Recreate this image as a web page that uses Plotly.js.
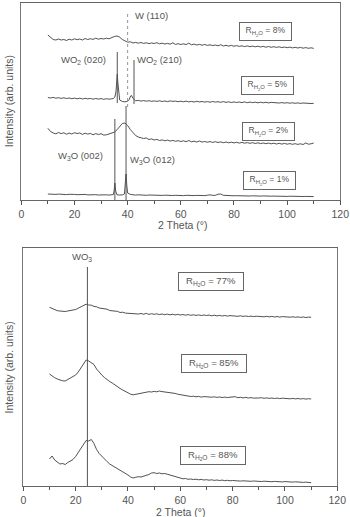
<!DOCTYPE html>
<html>
<head>
<meta charset="utf-8">
<script src="https://cdn.plot.ly/plotly-3.0.1.min.js"></script>
<style>
  html, body { margin: 0; padding: 0; background: #fff; }
  #chart { width: 350px; height: 517px; }
</style>
</head>
<body>
<div id="chart"></div>
<script>
// 2-theta grid shared by the smooth scans (degrees)
const theta = [10,11,12,13,14,15,16,17,18,19,20,21,22,23,24,25,26,27,28,29,30,31,32,33,34,35,36,37,38,39,40,41,42,43,44,45,46,47,48,49,50,51,52,53,54,55,56,57,58,59,60,61,62,63,64,65,66,67,68,69,70,71,72,73,74,75,76,77,78,79,80,81,82,83,84,85,86,87,88,89,90,91,92,93,94,95,96,97,98,99,100,101,102,103,104,105,106,107,108,109,110];

// Upper panel: low water ratio scans (offset intensities)
const int8 = [165,162.5,160.5,160,161,160,160.5,159.5,160.8,160,
  161.2,160.3,161,160,161.5,160.5,161.3,160.6,161.8,160.8,
  161.5,161,161.8,161.2,162.5,163.5,164,162.8,160.5,159,
  157.8,158.2,157,157.6,156.8,157.5,156.6,157.2,156.4,157,
  156.5,157.3,156.2,156.8,156,156.6,155.8,157.2,155.6,156.3,
  155.5,156.2,155.4,156.8,155.2,155.9,155,155.6,154.8,155.5,
  154.6,155.2,154.4,155,154.2,155.3,154,154.7,153.9,154.6,
  153.8,154.4,153.6,154.2,153.4,154.1,153.3,153.9,153.2,153.8,
  153,153.6,152.8,153.5,152.7,153.3,152.6,153.2,152.4,153,
  152.3,152.9,152.1,152.7,152,152.6,151.8,152.4,151.7,152.2,151.6];

const theta5 = [10,11,12,13,14,15,16,17,18,19,20,21,22,23,24,25,26,27,28,29,30,31,32,33,34,
  34.6,35.2,35.6,35.9,36.1,36.3,36.6,37,38,39,40,40.6,41.1,41.5,41.9,42.2,42.4,42.6,43,
  44,45,46,47,48,49,50,51,52,53,54,55,56,57,58,59,60,61,62,63,64,65,66,67,68,69,70,71,72,73,74,75,76,77,78,79,80,81,82,83,84,85,86,87,88,89,90,91,92,93,94,95,96,97,98,99,100,101,102,103,104,105,106,107,108,109,110];
const int5 = [102.5,102,102.6,101.8,102.3,101.6,102.2,101.5,102,101.3,
  101.9,101.2,101.8,101,101.7,101.1,101.6,100.8,101.5,100.9,
  101.4,100.7,101.3,100.8,101.2,
  101.5,103,108,118,126,118,106,100,98.5,98.2,98.8,100.5,104,104.5,102,101,100.5,99.5,99.2,
  99.6,98.9,99.4,98.8,99.3,98.7,
  99.1,98.6,99.2,98.5,99,98.4,99.1,98.6,98.9,98.3,
  98.8,98.2,98.9,98.1,98.6,98,98.7,98.1,98.5,97.9,
  98.4,97.8,98.5,97.9,98.3,97.7,98.4,97.6,98.2,97.5,
  98.1,97.5,98,97.4,98.1,97.3,97.9,97.4,97.8,97.2,
  97.8,97.2,97.7,97.1,97.6,97.3,97.5,97,97.4,96.9,
  97.3,96.8,97.2,96.7,97.1,96.6,97,96.7,96.9,96.5,96.7];

const int2 = [71.7,68.5,67,66.2,67.5,66.4,67.2,65.8,66.9,66,
  67.3,66.5,67,65.6,66.8,65.9,66.6,65.2,66.4,65.5,
  66.3,64.9,65.2,66,66.5,67.8,70.2,73.3,76.5,77,
  74.5,70.5,67,64.5,63,62.2,61.5,62,60.5,61.1,
  60,60.6,59.5,60.1,59.2,59.9,58.9,59.6,58.7,59.3,
  58.5,59.2,58.3,59.5,58.2,58.8,58,59,57.9,58.5,
  57.8,58.4,57.6,58.3,57.5,58.1,57.3,58,57.2,57.8,
  57.1,57.7,56.9,57.6,56.8,57.4,56.7,57.3,56.5,57.2,
  56.4,57,56.3,56.9,56.2,56.8,56,56.7,55.9,56.6,
  55.8,56.4,55.7,56.3,55.6,56.2,55.5,57,55.8,56.2,57];

const theta1 = [10,11,12,13,14,15,16,17,18,19,20,21,22,23,24,25,26,27,28,29,30,31,32,33,34,
  34.6,34.9,35.2,35.5,35.8,36,37,38,38.8,39.1,39.4,39.7,40,
  41,42,43,44,45,46,47,48,49,50,51,52,53,54,55,56,57,58,59,60,61,62,63,64,65,66,67,68,69,70,71,72,73,74,75,76,77,78,79,80,81,82,83,84,85,86,87,88,89,90,91,92,93,94,95,96,97,98,99,100,101,102,103,104,105,106,107,108,109,110];
const int1 = [6,5.7,6.1,5.6,5.9,5.5,5.8,5.4,5.7,5.3,
  5.6,5.3,5.5,5.2,5.6,5.1,5.4,5.1,5.3,5,
  5.3,5,5.2,4.9,5.1,
  5.4,9,17,9,5.5,5.2,5,5.1,6,14,26,14,7,
  5.6,5.1,4.9,5.2,4.8,5,4.7,5,4.8,
  4.9,4.6,4.9,4.6,4.8,4.5,4.8,4.5,4.7,4.5,
  4.7,4.4,4.7,4.4,4.6,4.4,4.6,4.3,4.6,4.4,
  4.8,5.2,4.6,4.7,5.8,6,4.7,4.4,4.2,4.4,
  4.2,4.3,4.1,4.3,4,4.2,4,4.2,3.9,4.1,
  3.9,4.1,3.8,4,3.8,3.9,3.7,3.9,3.7,3.8,
  3.6,3.8,3.6,3.7,3.5,3.7,3.5,3.6,3.4,3.5,3.4];

// Lower panel: high water ratio scans
const int77 = [178.7,177.5,176,175.3,175,174.6,174.5,175,175.5,176.2,
  176.5,177.8,179,180.5,181.8,181,180.8,179.6,179.2,178,
  177.6,176.5,176.8,175.5,175.2,174.3,174.6,173.5,173.8,172.9,
  172.7,173.2,172.3,172.8,172,172.5,171.8,172.6,171.6,172.3,
  171.7,172.2,171.4,172,171.3,171.9,171.2,171.7,171.1,171.6,
  171,171.5,170.8,171.4,170.7,171.2,170.6,171.1,170.5,171,
  170.5,170.9,170.2,170.8,170.1,170.6,170,170.5,169.9,170.4,
  170,170.3,169.7,170.2,169.6,170,169.5,169.9,169.4,169.8,
  169.5,169.8,169.2,169.7,169.1,169.6,169,169.5,168.9,169.4,
  169,169.3,168.8,169.2,168.7,169.1,168.6,169,168.5,168.9,168.7];

const int85 = [112,110,108.3,107,106,105.2,105,106.5,108,109,
  111,114,118,122.5,126,125,123.5,121.5,117,113.5,
  111,108.5,106,104.5,103,101,99.5,97.5,96,94.3,
  93,91.8,91.2,91.8,92,92.6,93.3,93.5,94.3,94,
  94.6,94.2,95,94.4,94.1,93.7,93.9,93,92.6,91.8,
  91.2,90.8,90.1,89.9,89.5,89.8,89.2,89.6,88.9,89.4,
  89,89.3,88.8,89.2,88.6,89,88.5,88.9,88.4,88.8,
  88.7,89.3,88.3,88.7,88.1,88.6,88,88.4,87.9,88.3,
  88,88.3,87.7,88.1,87.6,88,87.5,87.9,87.4,87.8,
  87.5,87.8,87.2,87.6,87.1,87.5,87,87.4,86.9,87.3,87];

const int88 = [27,30,26,23.5,22,22.5,21.5,23.5,25,26.5,
  29.5,33.5,38,42,45.5,45,46.5,42.5,36.5,32.5,
  29.5,26.5,24.5,22,20.5,19,17.5,16,14.5,12.5,
  11,9,8,8.8,9.3,9,9.8,10.5,11.5,13,
  13.3,12.5,13,12.2,12.5,11.8,11,10,9,8.2,
  7.7,7.2,7.5,6.7,7,6.5,6.8,6.2,6.6,6,
  6.3,5.8,6.2,5.6,6,5.5,5.9,5.3,5.7,5.2,
  5.5,5.1,5.4,4.9,5.2,4.8,5.1,4.7,5,4.6,
  4.9,4.5,4.8,4.4,4.7,4.3,4.6,4.2,4.5,4.1,
  4.4,4,4.3,3.9,4.2,3.8,4,3.6,3.9,3.4,3.3];

// Phase reflection markers: position, lower and upper end
const refPos  = [35.2, 39.4, 36.1, 42.4];
const refLow  = [0, 0, 97, 96];
const refHigh = [81, 94, 148, 140];
const wPos = 40, wLow = 93, wHigh = 188;          // W (110), dotted
const wo3Pos = 24.5, wo3Low = 0, wo3High = 219;   // WO3 marker, lower panel

const phaseLabels = ['W (110)', 'WO<sub>2</sub> (020)', 'WO<sub>2</sub> (210)', 'W<sub>3</sub>O (002)', 'W<sub>3</sub>O (012)'];
const ratioTop = ['8%', '5%', '2%', '1%'];
const ratioBottom = ['77%', '85%', '88%'];

const lineColor = '#3d3d3d';
const traces = [];
function scan(x, y, xa, ya) {
  traces.push({x: x, y: y, xaxis: xa, yaxis: ya, type: 'scatter', mode: 'lines',
    line: {color: lineColor, width: 0.9}, hoverinfo: 'skip'});
}
scan(theta, int8, 'x', 'y');
scan(theta5, int5, 'x', 'y');
scan(theta, int2, 'x', 'y');
scan(theta1, int1, 'x', 'y');
scan(theta, int77, 'x2', 'y2');
scan(theta, int85, 'x2', 'y2');
scan(theta, int88, 'x2', 'y2');

for (let i = 0; i < refPos.length; i++) {
  traces.push({x: [refPos[i], refPos[i]], y: [refLow[i], refHigh[i]], xaxis: 'x', yaxis: 'y',
    type: 'scatter', mode: 'lines', line: {color: '#555', width: 1}, hoverinfo: 'skip'});
}
traces.push({x: [wPos, wPos], y: [wLow, wHigh], xaxis: 'x', yaxis: 'y', type: 'scatter', mode: 'lines',
  line: {color: '#777', width: 0.8, dash: 'dot'}, hoverinfo: 'skip'});
traces.push({x: [wo3Pos, wo3Pos], y: [wo3Low, wo3High], xaxis: 'x2', yaxis: 'y2', type: 'scatter', mode: 'lines',
  line: {color: '#555', width: 1}, hoverinfo: 'skip'});

const txt = '#555';
function label(text, x, y, xa, ya, anchor, size) {
  return {text: text, x: x, y: y, xref: xa, yref: ya, xanchor: anchor, yanchor: 'middle',
    showarrow: false, font: {size: size, color: txt}};
}
function ratioBox(r, x, y, xa, ya, size, w) {
  return {text: 'R<sub>H<sub>2</sub>O</sub> = ' + r, x: x, y: y, xref: xa, yref: ya,
    xanchor: 'center', yanchor: 'middle', showarrow: false, width: w, height: 13,
    bordercolor: '#666', borderwidth: 1, borderpad: 2, bgcolor: 'rgba(255,255,255,0)',
    font: {size: size, color: txt}};
}

const annotations = [
  label(phaseLabels[0], 42, 185, 'x', 'y', 'left', 9.5),
  label(phaseLabels[1], 32.6, 140, 'x', 'y', 'right', 9.5),
  label(phaseLabels[2], 42.8, 140, 'x', 'y', 'left', 9.5),
  label(phaseLabels[3], 31.5, 44, 'x', 'y', 'right', 9.5),
  label(phaseLabels[4], 40.1, 40, 'x', 'y', 'left', 9.5),
  ratioBox(ratioTop[0], 92, 169, 'x', 'y', 8.5, 47),
  ratioBox(ratioTop[1], 92.6, 114.5, 'x', 'y', 8.5, 47),
  ratioBox(ratioTop[2], 93.1, 69, 'x', 'y', 8.5, 47),
  ratioBox(ratioTop[3], 93.3, 19.5, 'x', 'y', 8.5, 47),
  label('WO<sub>3</sub>', 22.4, 229, 'x2', 'y2', 'center', 9.5),
  ratioBox(ratioBottom[0], 71.9, 205, 'x2', 'y2', 9.5, 60),
  ratioBox(ratioBottom[1], 72.7, 123, 'x2', 'y2', 9.5, 60),
  ratioBox(ratioBottom[2], 72.5, 31, 'x2', 'y2', 9.5, 60),
  // axis titles
  {text: '2 Theta (°)', x: 182.5 / 350, y: (517 - 225) / 517, xref: 'paper', yref: 'paper',
    xanchor: 'center', yanchor: 'middle', showarrow: false, font: {size: 10.5, color: txt}},
  {text: '2 Theta (°)', x: 180.7 / 350, y: (517 - 512) / 517, xref: 'paper', yref: 'paper',
    xanchor: 'center', yanchor: 'middle', showarrow: false, font: {size: 10.5, color: txt}},
  {text: 'Intensity (arb. units)', x: 8.7 / 350, y: (517 - 101.5) / 517, xref: 'paper', yref: 'paper',
    xanchor: 'center', yanchor: 'middle', textangle: -90, showarrow: false, font: {size: 10.5, color: txt}},
  {text: 'Intensity (arb. units)', x: 9 / 350, y: (517 - 367.5) / 517, xref: 'paper', yref: 'paper',
    xanchor: 'center', yanchor: 'middle', textangle: -90, showarrow: false, font: {size: 10.5, color: txt}}
];

function xAxis(domain, anchor) {
  return {domain: domain, anchor: anchor, range: [0, 120], tick0: 0, dtick: 20,
    ticks: 'outside', ticklen: 4, tickwidth: 1, tickcolor: '#555',
    minor: {dtick: 10, ticks: 'outside', ticklen: 3, tickcolor: '#555', showgrid: false},
    showline: true, linecolor: '#666', linewidth: 1, mirror: true,
    showgrid: false, zeroline: false, fixedrange: true,
    tickfont: {size: 10.5, color: txt}};
}
function yAxis(domain, anchor, top) {
  return {domain: domain, anchor: anchor, range: [0, top], showticklabels: false, ticks: '',
    showline: true, linecolor: '#777', linewidth: 1, mirror: true,
    showgrid: false, zeroline: false, fixedrange: true};
}

const layout = {
  width: 350, height: 517,
  margin: {l: 0, r: 0, t: 0, b: 0},
  paper_bgcolor: '#fff', plot_bgcolor: '#fff',
  showlegend: false,
  font: {family: '"Liberation Sans", Arial, sans-serif', color: txt, size: 11},
  xaxis: xAxis([21.3 / 350, 340.3 / 350], 'y'),
  yaxis: yAxis([(517 - 200) / 517, (517 - 3) / 517], 'x', 197),
  xaxis2: xAxis([23.3 / 350, 337.3 / 350], 'y2'),
  yaxis2: yAxis([(517 - 486) / 517, (517 - 248.3) / 517], 'x2', 237.7),
  annotations: annotations
};

Plotly.newPlot('chart', traces, layout, {displayModeBar: false, staticPlot: true});
</script>
</body>
</html>
